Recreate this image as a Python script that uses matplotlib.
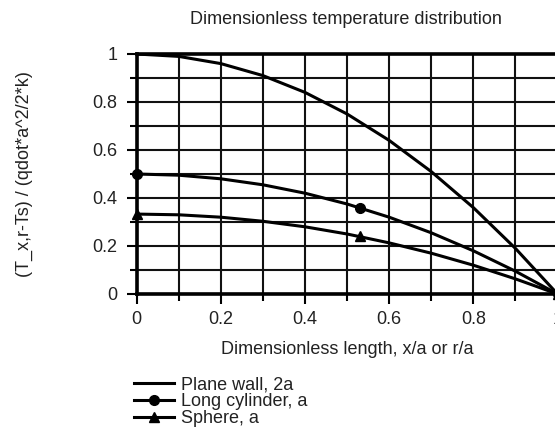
import matplotlib
matplotlib.use("Agg")
import matplotlib.pyplot as plt
from matplotlib.lines import Line2D

plt.rcParams['font.family'] = ['Liberation Sans', 'DejaVu Sans']

# dane
x = [0, 0.1, 0.2, 0.3, 0.4, 0.5, 0.6, 0.7, 0.8, 0.9, 1.0]
plane_wall = [1.0, 0.99, 0.96, 0.91, 0.84, 0.75, 0.64, 0.51, 0.36, 0.19, 0.0]
cylinder = [0.5, 0.495, 0.48, 0.455, 0.42, 0.375, 0.32, 0.255, 0.18, 0.095, 0.0]
sphere = [0.333, 0.33, 0.32, 0.303, 0.28, 0.25, 0.213, 0.17, 0.12, 0.063, 0.0]

# punkty ze znacznikami
mark_x = [0, 0.53, 1.0]
cylinder_marks = [0.5, 0.359, 0.0]
sphere_marks = [0.333, 0.24, 0.0]

labels = ['Plane wall, 2a', 'Long cylinder, a', 'Sphere, a']
xtick_vals = [0, 0.2, 0.4, 0.6, 0.8, 1.0]
xtick_labels = ['0', '0.2', '0.4', '0.6', '0.8', '1']
ytick_vals = [0, 0.2, 0.4, 0.6, 0.8, 1.0]
ytick_labels = ['0', '0.2', '0.4', '0.6', '0.8', '1']
minor_vals = [0.1, 0.3, 0.5, 0.7, 0.9]

W, H = 555, 430
fig = plt.figure(figsize=(W / 100, H / 100), dpi=100)
left, right, top, bottom = 136.7, 557.5, 54, 294
ax = fig.add_axes([left / W, 1 - bottom / H, (right - left) / W, (bottom - top) / H])

lw = 2.2
ms = 7
ax.plot(x, plane_wall, color='black', lw=lw, zorder=3)
ax.plot(x, cylinder, color='black', lw=lw, zorder=3)
ax.plot(mark_x, cylinder_marks, 'o', color='black', ms=ms, zorder=4, clip_on=False)
ax.plot(x, sphere, color='black', lw=lw, zorder=3)
ax.plot(mark_x, sphere_marks, '^', color='black', ms=ms, zorder=4, clip_on=False)

ax.set_xlim(0, 1)
ax.set_ylim(0, 1)
ax.set_xticks(xtick_vals)
ax.set_xticklabels(xtick_labels)
ax.set_yticks(ytick_vals)
ax.set_yticklabels(ytick_labels)
ax.set_xticks(minor_vals, minor=True)
ax.set_yticks(minor_vals, minor=True)
ax.grid(True, which='both', color='#111111', lw=1.5, zorder=1)
ax.set_axisbelow(True)

ax.tick_params(which='major', direction='out', length=7, width=1.5,
               labelsize=13, labelcolor='#222222')
ax.tick_params(axis='y', which='major', pad=7)
ax.tick_params(axis='x', which='major', pad=5)
ax.tick_params(which='minor', direction='out', length=5, width=1.5)

for s in ['left', 'bottom', 'top']:
    ax.spines[s].set_linewidth(2.6)
ax.spines['right'].set_visible(False)

fig.text(346 / W, 1 - 19 / H, 'Dimensionless temperature distribution',
         ha='center', va='center', fontsize=13, color='#222222')
fig.text(347 / W, 1 - 350 / H, 'Dimensionless length, x/a or r/a',
         ha='center', va='center', fontsize=13, color='#222222')
fig.text(24 / W, 1 - 174 / H, '(T_x,r-Ts) / (qdot*a^2/2*k)', rotation=90,
         ha='center', va='center', fontsize=13, color='#222222')

# legenda
handles = [Line2D([], [], color='black', lw=lw),
           Line2D([], [], color='black', lw=lw, marker='o', ms=ms),
           Line2D([], [], color='black', lw=lw, marker='^', ms=ms)]
fig.legend(handles, labels, loc='upper left', bbox_to_anchor=(134 / W, 1 - 376 / H),
           frameon=False, fontsize=13, handlelength=2.2, handletextpad=0.4,
           labelspacing=0.0, borderpad=0, borderaxespad=0, labelcolor='#222222')

fig.savefig('out.png', dpi=100)
